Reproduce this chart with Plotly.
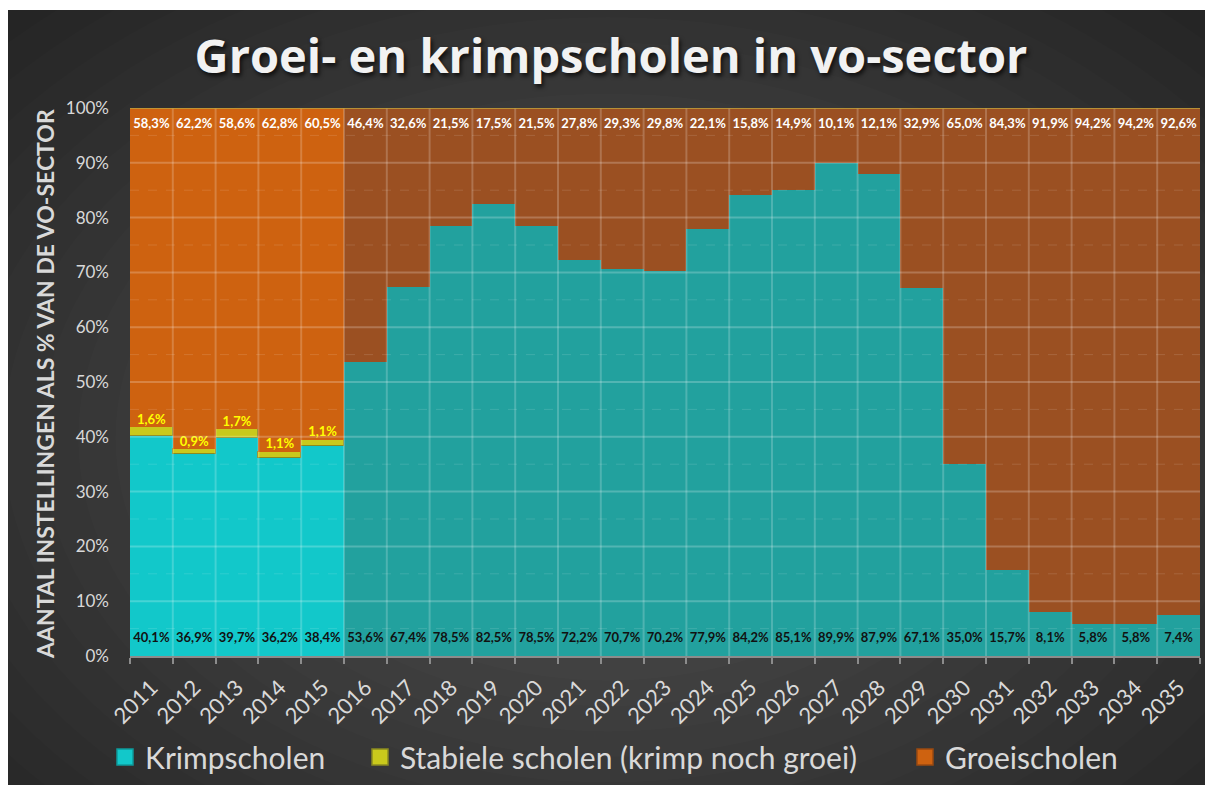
import plotly.graph_objects as go

years = [str(y) for y in range(2011, 2036)]
krimp = [40.1, 36.9, 39.7, 36.2, 38.4, 53.6, 67.4, 78.5, 82.5, 78.5, 72.2, 70.7, 70.2,
         77.9, 84.2, 85.1, 89.9, 87.9, 67.1, 35.0, 15.7, 8.1, 5.8, 5.8, 7.4]
stabiel = [1.6, 0.9, 1.7, 1.1, 1.1] + [0.0] * 20
groei = [58.3, 62.2, 58.6, 62.8, 60.5, 46.4, 32.6, 21.5, 17.5, 21.5, 27.8, 29.3, 29.8,
         22.1, 15.8, 14.9, 10.1, 12.1, 32.9, 65.0, 84.3, 91.9, 94.2, 94.2, 92.6]
y_ticks = [0, 10, 20, 30, 40, 50, 60, 70, 80, 90, 100]
series_names = ["Krimpscholen", "Stabiele scholen (krimp noch groei)", "Groeischolen"]

n_hist = 5  # 2011-2015 measured, afterwards forecast (darker colours)

def fmt(v):
    return f"{v:.1f}".replace(".", ",") + "%"

FONT = "Lato"
W, H = 1206, 777
L, R, T, B = 122, 14, 100, 129
pw, ph = W - L - R, H - T - B

def px_x(p):
    return (p - L) / pw

def px_y(p):
    return (H - B - p) / ph

# label rows: groei labels along the top of the plot, krimp labels along the bottom
top_label_y = 100 * px_y(117)
bottom_label_y = 100 * px_y(631)

krimp_col = ["#12C8CA" if i < n_hist else "#22A19E" for i in range(len(years))]
groei_col = ["#CE6210" if i < n_hist else "#9B5022" for i in range(len(years))]
legend_col = ["#12C8CA", "#C9C91C", "#CE6210"]
legend_line = ["#0E9A9C", "#8A8A20", "#9A4A10"]

fig = go.Figure()
fig.add_trace(go.Bar(
    x=years, y=krimp, name=series_names[0], legendgroup="k", showlegend=False,
    marker=dict(color=krimp_col, line=dict(width=0)),
))
fig.add_trace(go.Bar(
    x=years, y=stabiel, name=series_names[1], legendgroup="s", showlegend=False,
    marker=dict(color="#C9C91C", line=dict(color="#8A8A20", width=1)),
))
fig.add_trace(go.Bar(
    x=years, y=groei, name=series_names[2], legendgroup="g", showlegend=False,
    marker=dict(color=groei_col, line=dict(width=0)),
))
# data labels
fig.add_trace(go.Scatter(
    x=years, y=[bottom_label_y] * len(years), mode="text", text=[fmt(v) for v in krimp],
    textposition="middle center", cliponaxis=False,
    textfont=dict(family=FONT, size=13, color="#111111", weight="bold"),
    showlegend=False, hoverinfo="skip",
))
fig.add_trace(go.Scatter(
    x=years, y=[top_label_y] * len(years), mode="text", text=[fmt(v) for v in groei],
    textposition="middle center", cliponaxis=False,
    textfont=dict(family=FONT, size=13, color="#FFFFFF", weight="bold"),
    showlegend=False, hoverinfo="skip",
))
fig.add_trace(go.Scatter(
    x=years[:n_hist], y=[k + s for k, s in zip(krimp[:n_hist], stabiel[:n_hist])],
    mode="text", text=[fmt(v) for v in stabiel[:n_hist]], textposition="top center",
    textfont=dict(family=FONT, size=13, color="#FFFF00", weight="bold"),
    showlegend=False, hoverinfo="skip",
))
# legend entries (one legend per series so they can be spaced like the original)
for i, (nm, grp) in enumerate(zip(series_names, ["k", "s", "g"])):
    fig.add_trace(go.Scatter(
        x=[None], y=[None], mode="markers", name=nm, legendgroup=grp,
        legend="legend" if i == 0 else f"legend{i + 1}",
        marker=dict(symbol="square", size=16, color=legend_col[i],
                    line=dict(color=legend_line[i], width=1.5)),
    ))

shapes = []
# dark panel background with soft radial highlight
shapes.append(dict(type="rect", xref="paper", yref="paper", layer="below",
                   x0=px_x(0), x1=px_x(1197), y0=px_y(777), y1=px_y(2),
                   fillcolor="#1F1F1F", line=dict(width=0)))
cx, cy = 600, 430
n_rings = 22
for k in range(n_rings):
    f = 1 - k / n_rings
    rx, ry = 120 + 820 * f, 90 + 560 * f
    shapes.append(dict(type="circle", xref="paper", yref="paper", layer="below",
                       x0=px_x(cx - rx), x1=px_x(cx + rx), y0=px_y(cy + ry), y1=px_y(cy - ry),
                       fillcolor="rgba(255,255,255,0.011)", line=dict(width=0)))
# white page strips outside the panel
shapes.append(dict(type="rect", xref="paper", yref="paper", layer="below",
                   x0=px_x(1197), x1=px_x(W + 5), y0=px_y(H + 5), y1=px_y(-5),
                   fillcolor="#FFFFFF", line=dict(width=0)))
shapes.append(dict(type="rect", xref="paper", yref="paper", layer="below",
                   x0=px_x(-5), x1=px_x(W + 5), y0=px_y(2), y1=px_y(-5),
                   fillcolor="#FFFFFF", line=dict(width=0)))
# grid lines drawn above bars
for v in y_ticks[1:-1]:
    shapes.append(dict(type="line", xref="paper", yref="y", x0=0, x1=1, y0=v, y1=v,
                       layer="above", line=dict(color="rgba(255,255,255,0.22)", width=2)))
for v in y_ticks[:-1]:
    shapes.append(dict(type="line", xref="paper", yref="y", x0=0, x1=1, y0=v + 5, y1=v + 5,
                       layer="above", line=dict(color="rgba(255,255,255,0.12)", width=1, dash="dash")))
for i in range(1, len(years)):
    shapes.append(dict(type="line", xref="x", yref="paper", x0=i - 0.5, x1=i - 0.5, y0=0, y1=1,
                       layer="above", line=dict(color="rgba(255,255,255,0.2)", width=2)))
# top edge highlight
shapes.append(dict(type="line", xref="paper", yref="y", x0=0, x1=1, y0=100, y1=100,
                   layer="above", line=dict(color="rgba(190,160,60,0.8)", width=2)))

annotations = [dict(
    text="<b>AANTAL INSTELLINGEN ALS % VAN DE VO-SECTOR</b>", textangle=-90,
    xref="paper", yref="paper", x=px_x(37), y=px_y(376), xanchor="center", yanchor="middle",
    showarrow=False, font=dict(family=FONT, size=23, color="#D9D9D9"),
)]

leg_common = dict(orientation="h", xref="container", yref="container", xanchor="left",
                  yanchor="middle", y=1 - 749 / H, bgcolor="rgba(0,0,0,0)",
                  font=dict(family=FONT, size=30, color="#D9D9D9"), itemsizing="trace")

fig.update_layout(
    width=W, height=H,
    margin=dict(l=L, r=R, t=T, b=B, autoexpand=False),
    paper_bgcolor="#FFFFFF", plot_bgcolor="rgba(0,0,0,0)",
    barmode="stack", bargap=0,
    separators=",.",
    shapes=shapes,
    annotations=annotations,
    title=dict(text="Groei- en krimpscholen in vo-sector",
               font=dict(family="Open Sans", size=47, color="#F2F2F2", weight="bold",
                         shadow="2px 3px 4px rgba(0,0,0,0.7)"),
               x=0.5, xref="container", xanchor="center", y=1 - 49 / H, yanchor="middle"),
    font=dict(family=FONT, color="#D9D9D9"),
    xaxis=dict(type="category", range=[-0.5, len(years) - 0.5], tickangle=-45,
               tickson="boundaries", ticks="outside", ticklabelstandoff=8,
               ticklen=6, tickcolor="#8C8C8C", tickwidth=2, showline=True, linecolor="#8C8C8C",
               linewidth=2, showgrid=False, tickfont=dict(family=FONT, size=22, color="#D9D9D9"),
               automargin=False, fixedrange=True),
    yaxis=dict(range=[0, 100], tickvals=y_ticks, ticktext=[f"{v}%" for v in y_ticks],
               showgrid=False, zeroline=False, tickfont=dict(family=FONT, size=17, color="#D9D9D9"),
               ticklabelstandoff=20, automargin=False, fixedrange=True),
    legend=dict(leg_common, x=97 / W),
    legend2=dict(leg_common, x=352 / W),
    legend3=dict(leg_common, x=897 / W),
    showlegend=True,
)

fig.write_html("out.html")
